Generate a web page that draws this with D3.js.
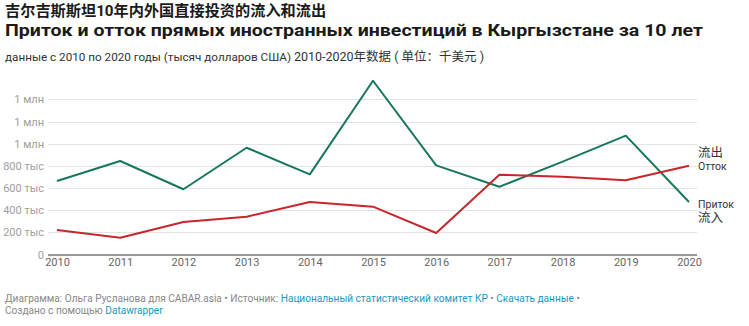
<!DOCTYPE html>
<html><head><meta charset="utf-8">
<script src="https://cdn.jsdelivr.net/npm/d3@7"></script>
<style>
html,body{margin:0;padding:0;background:#fff;}
svg{display:block;font-family:Roboto,"Noto Sans CJK SC",sans-serif;}
</style></head>
<body>
<svg id="c" width="749" height="326"></svg>
<script>
const years = [2010,2011,2012,2013,2014,2015,2016,2017,2018,2019,2020];
const inflow = [664000,844000,589000,964000,724000,1569000,805000,612000,838000,1073000,474000];
const outflow = [221000,152000,293000,341000,474000,432000,194000,721000,703000,670000,802000];
const tickValues = [0,200000,400000,600000,800000,1000000,1200000,1400000];
const tickLabels = ["0","200 тыс","400 тыс","600 тыс","800 тыс","1 млн","1 млн","1 млн"];

const svg = d3.select("#c");
const x = d3.scaleLinear().domain([2010,2020]).range([57,689]);
const y = d3.scaleLinear().domain([0,1600000]).range([254.5,77.3]);

// titles
svg.append("text").attr("x",5).attr("y",16).attr("font-size",15.2).attr("font-weight",700)
  .attr("fill","#1a1a1a").text("吉尔吉斯斯坦10年内外国直接投资的流入和流出");
svg.append("text").attr("x",5).attr("y",36).attr("font-size",17.3).attr("font-weight",700)
  .attr("fill","#1a1a1a").attr("textLength",698).attr("lengthAdjust","spacingAndGlyphs")
  .text("Приток и отток прямых иностранных инвестиций в Кыргызстане за 10 лет");
const sub = svg.append("text").attr("x",5).attr("y",61).attr("font-size",11.7).attr("fill","#333");
sub.append("tspan").text("данные с 2010 по 2020 годы (тысяч долларов США) ");
sub.append("tspan").attr("font-size",12.5).text("2010-2020年数据 ( 单位：千美元 )");

// grid
const g = svg.append("g");
g.selectAll("line.grid").data(tickValues.slice(1)).join("line")
  .attr("x1",48).attr("x2",697).attr("y1",d=>Math.round(y(d))+0.5).attr("y2",d=>Math.round(y(d))+0.5)
  .attr("stroke","#e3e3e3").attr("stroke-width",1);
g.selectAll("text.yl").data(tickValues).join("text")
  .attr("x",44).attr("y",d=>y(d)+4).attr("text-anchor","end").attr("font-size",11)
  .attr("fill","#a0a0a0").text((d,i)=>tickLabels[i]);
g.append("line").attr("x1",48).attr("x2",697).attr("y1",255).attr("y2",255)
  .attr("stroke","#333").attr("stroke-width",1.2);

// x axis
const xAxis = d3.axisBottom(x).tickValues(years).tickFormat(d3.format("d")).tickSize(0).tickPadding(0);
const ax = svg.append("g").attr("transform","translate(0,258)").call(xAxis);
ax.select(".domain").remove();
ax.selectAll("text").attr("font-size",11).attr("fill","#666").attr("dy","0.71em")
  .attr("font-family","Roboto,sans-serif");

// lines
const line = d3.line().x((d,i)=>x(years[i])).y(d=>y(d));
svg.append("path").datum(inflow).attr("d",line).attr("fill","none")
  .attr("stroke","#17775c").attr("stroke-width",2).attr("stroke-linejoin","round");
svg.append("path").datum(outflow).attr("d",line).attr("fill","none")
  .attr("stroke","#c9252c").attr("stroke-width",2).attr("stroke-linejoin","round");

// line labels
svg.append("text").attr("x",698).attr("y",157).attr("font-size",12.5).attr("fill","#333").text("流出");
svg.append("text").attr("x",698).attr("y",170).attr("font-size",10.5).attr("fill","#333").text("Отток");
svg.append("text").attr("x",698).attr("y",208).attr("font-size",10.5).attr("fill","#333").text("Приток");
svg.append("text").attr("x",698).attr("y",222).attr("font-size",12.5).attr("fill","#333").text("流入");

// footer
const f1 = svg.append("text").attr("x",5).attr("y",302).attr("font-size",10.1).attr("fill","#888");
f1.append("tspan").text("Диаграмма: Ольга Русланова для CABAR.asia • Источник: ");
f1.append("tspan").attr("fill","#1d97bf").text("Национальный статистический комитет КР");
f1.append("tspan").text(" • ");
f1.append("tspan").attr("fill","#1d97bf").text("Скачать данные");
f1.append("tspan").text(" •");
const f2 = svg.append("text").attr("x",5).attr("y",314).attr("font-size",10.1).attr("fill","#888");
f2.append("tspan").text("Создано с помощью ");
f2.append("tspan").attr("fill","#1d97bf").text("Datawrapper");
</script>
</body></html>
